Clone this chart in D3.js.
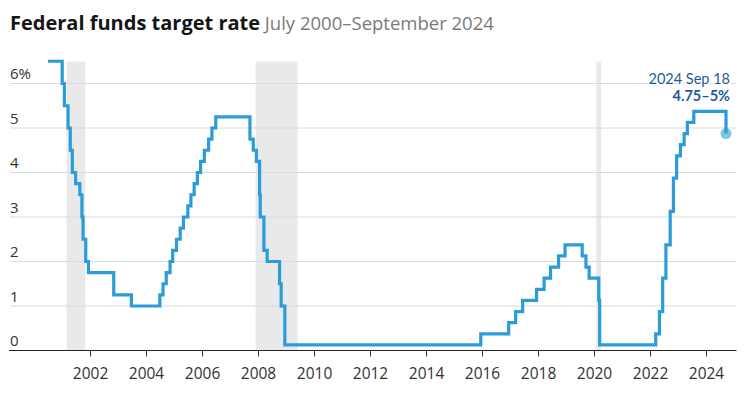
<!DOCTYPE html>
<html><head><meta charset="utf-8">
<script src="https://cdn.jsdelivr.net/npm/d3@7"></script>
<style>body{margin:0;background:#fff;} svg{display:block;font-family:"Open Sans",Lato,sans-serif;}</style>
</head><body><svg id="c" width="754" height="401"></svg>
<script>
// Federal funds target rate (midpoint of range after Dec 2008), changes in effect from each date
const changeDates = [
 "2000-07-01","2001-01-03","2001-01-31","2001-03-20","2001-04-18","2001-05-15","2001-06-27","2001-08-21",
 "2001-09-17","2001-10-02","2001-11-06","2001-12-11","2002-11-06","2003-06-25","2004-06-30","2004-08-10",
 "2004-09-21","2004-11-10","2004-12-14","2005-02-02","2005-03-22","2005-05-03","2005-06-30","2005-08-09",
 "2005-09-20","2005-11-01","2005-12-13","2006-01-31","2006-03-28","2006-05-10","2006-06-29","2007-09-18",
 "2007-10-31","2007-12-11","2008-01-22","2008-01-30","2008-03-18","2008-04-30","2008-10-08","2008-10-29",
 "2008-12-16","2015-12-16","2016-12-14","2017-03-15","2017-06-14","2017-12-13","2018-03-21","2018-06-13",
 "2018-09-26","2018-12-19","2019-07-31","2019-09-18","2019-10-30","2020-03-03","2020-03-15","2022-03-16",
 "2022-05-04","2022-06-15","2022-07-27","2022-09-21","2022-11-02","2022-12-14","2023-02-01","2023-03-22",
 "2023-05-03","2023-07-26","2024-09-18"
];
const rates = [
 6.5,6.0,5.5,5.0,4.5,4.0,3.75,3.5,
 3.0,2.5,2.0,1.75,1.25,1.0,1.25,1.5,
 1.75,2.0,2.25,2.5,2.75,3.0,3.25,3.5,
 3.75,4.0,4.25,4.5,4.75,5.0,5.25,4.75,
 4.5,4.25,3.5,3.0,2.25,2.0,1.5,1.0,
 0.125,0.375,0.625,0.875,1.125,1.375,1.625,1.875,
 2.125,2.375,2.125,1.875,1.625,1.125,0.125,0.375,
 0.875,1.625,2.375,3.125,3.875,4.375,4.625,4.875,
 5.125,5.375,4.875
];
const recessionStarts = ["2001-03-01","2007-12-01","2020-02-01"];
const recessionEnds = ["2001-11-01","2009-06-01","2020-04-01"];
const yTicks = [0,1,2,3,4,5,6];
const xTickYears = [2002,2004,2006,2008,2010,2012,2014,2016,2018,2020,2022,2024];
const titleText = "Federal funds target rate";
const subtitleText = "July 2000–September 2024";
const annoDate = "2024 Sep 18";
const annoValue = "4.75–5%";

const parse = d3.timeParse("%Y-%m-%d");
const data = changeDates.map((d,i)=>({date:parse(d), rate:rates[i]}));

const svg = d3.select("#c");
const x = d3.scaleTime().domain([new Date(2000,0,1), new Date(2024,0,1)]).range([34,706]);
const y = d3.scaleLinear().domain([0,6]).range([350.5,83.5]);
const left = 10, right = 736.5;

// title
const t = svg.append("text").attr("x",10).attr("y",30);
t.append("tspan").text(titleText).attr("font-weight",700).attr("font-size",20).attr("fill","#151515");
t.append("tspan").text(" "+subtitleText).attr("font-size",18.5).attr("fill","#7a7a7a");

// recessions
svg.append("g").selectAll("rect").data(recessionStarts).join("rect")
  .attr("x",(d)=>x(parse(d)))
  .attr("width",(d,i)=>x(parse(recessionEnds[i]))-x(parse(d)))
  .attr("y",61.5).attr("height",y(0)-61.5)
  .attr("fill","#e8e9eb");

// gridlines
svg.append("g").selectAll("line").data(yTicks.filter(v=>v>0)).join("line")
  .attr("x1",left).attr("x2",right).attr("y1",d=>y(d)).attr("y2",d=>y(d))
  .attr("stroke","#dadada").attr("stroke-width",1);

// y labels
svg.append("g").selectAll("text").data(yTicks).join("text")
  .attr("x",10).attr("y",d=>y(d)-4.5)
  .attr("font-size",15).attr("fill","#333")
  .text(d=>d===6? d+"%" : d);

// x axis
const xa = svg.append("g").attr("transform",`translate(0,${y(0)})`)
  .call(d3.axisBottom(x).tickValues(xTickYears.map(yr=>new Date(yr,0,1))).tickFormat(d3.timeFormat("%Y")).tickSize(6).tickPadding(11));
xa.select(".domain").remove();
xa.selectAll(".tick line").attr("stroke","#333");
xa.selectAll(".tick text").attr("font-size",15.5).attr("fill","#333").attr("font-family","'Open Sans',Lato,sans-serif");
svg.append("line").attr("x1",9).attr("x2",right).attr("y1",y(0)).attr("y2",y(0)).attr("stroke","#222").attr("stroke-width",1.2);

// line
const line = d3.line().x(d=>x(d.date)).y(d=>y(d.rate)).curve(d3.curveStepAfter);
svg.append("path").datum(data).attr("d",line)
  .attr("fill","none").attr("stroke","#2b9cd8").attr("stroke-width",3.2).attr("stroke-linejoin","miter");

// end dot
const last = data[data.length-1];
svg.append("circle").attr("cx",x(last.date)).attr("cy",y(last.rate)).attr("r",5.5)
  .attr("fill","#2b9cd8").attr("opacity",0.6);

// annotation
const ann = svg.append("g").attr("text-anchor","end").attr("fill","#1d5c96")
  .attr("font-family","Lato,'Open Sans',sans-serif")
  .attr("stroke","#fff").attr("stroke-width",4).attr("paint-order","stroke");
ann.append("text").attr("x",730).attr("y",83.5).attr("font-size",14.5).text(annoDate);
ann.append("text").attr("x",730).attr("y",100.5).attr("font-size",14.5).attr("font-weight",700).text(annoValue);
</script></body></html>
